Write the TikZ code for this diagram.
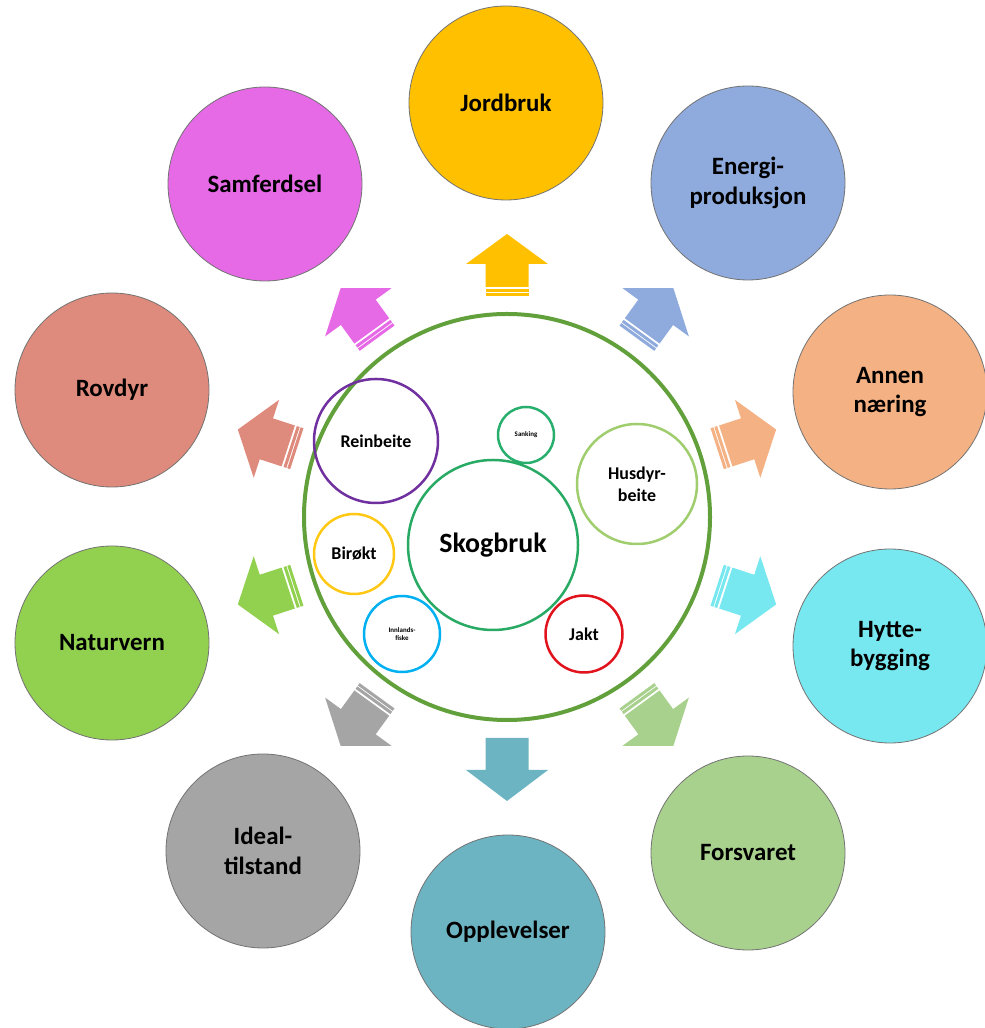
\documentclass[tikz,border=0pt]{standalone}
\usepackage{fontspec}
\setmainfont{Carlito}
\definecolor{cJord}{RGB}{255,192,0}
\definecolor{cEnergi}{RGB}{143,170,220}
\definecolor{cAnnen}{RGB}{244,177,131}
\definecolor{cHytte}{RGB}{120,232,240}
\definecolor{cForsv}{RGB}{169,209,142}
\definecolor{cOppl}{RGB}{108,180,194}
\definecolor{cIdeal}{RGB}{165,165,165}
\definecolor{cNatur}{RGB}{146,208,80}
\definecolor{cRov}{RGB}{222,138,124}
\definecolor{cSamf}{RGB}{230,105,230}
\definecolor{cBig}{RGB}{98,160,60}
\definecolor{cRein}{RGB}{112,48,160}
\definecolor{cSank}{RGB}{40,175,110}
\definecolor{cHusd}{RGB}{160,205,110}
\definecolor{cSkog}{RGB}{40,170,100}
\definecolor{cBir}{RGB}{255,200,20}
\definecolor{cFisk}{RGB}{0,176,240}
\definecolor{cJakt}{RGB}{225,20,30}
\newcommand\myblockarrow[3]{%
  \begin{scope}[shift={(big.center)}, rotate=#1]
    \ifnum#3=1
      \fill[#2] (230,-21.5) -- (253,-21.5) -- (253,-41) -- (283,0) -- (253,41) -- (253,21.5) -- (230,21.5) -- cycle;
      \fill[#2] (225,-21.5) rectangle (228,21.5);
      \fill[#2] (221,-21.5) rectangle (224,21.5);
    \else
      \fill[#2] (221,-21.5) -- (253,-21.5) -- (253,-41) -- (284,0) -- (253,41) -- (253,21.5) -- (221,21.5) -- cycle;
    \fi
  \end{scope}}
\begin{document}
\begin{tikzpicture}[x=1bp,y=1bp]
\useasboundingbox (0,0) rectangle (985,1028);
\tikzset{
  outer/.style={circle, draw=black!55, line width=0.8bp, minimum size=194bp, inner sep=0pt, align=center, font=\fontsize{25}{30}\selectfont\bfseries},
  innerc/.style={circle, line width=2.5bp, inner sep=0pt, align=center, font=\fontsize{18}{22}\selectfont\bfseries},
  tiny/.style={font=\fontsize{7}{8}\selectfont\bfseries},
}
% central circle
\node[circle, draw=cBig, line width=4bp, minimum size=406bp, inner sep=0pt] (big) at (507,511) {};
% inner circles
\node[innerc, draw=cRein, minimum size=124bp] (rein) at (376,587) {Reinbeite};
\node[innerc, draw=cSank, minimum size=56bp, tiny] (sank) at (526,593) {Sanking};
\node[innerc, draw=cHusd, minimum size=120bp] (husd) at (637,544) {Husdyr-\\beite};
\node[innerc, draw=cSkog, minimum size=170bp] (skog) at (493,483) {\fontsize{28}{30}\selectfont\bfseries Skogbruk};
\node[innerc, draw=cBir, minimum size=80bp] (bir) at (354,474) {Birøkt};
\node[innerc, draw=cFisk, minimum size=76bp, tiny] (fisk) at (402,394) {Innlands-\\fiske};
\node[innerc, draw=cJakt, minimum size=77bp] (jakt) at (584,394) {Jakt};
% arrows
\myblockarrow{90}{cJord}{1}
\myblockarrow{54}{cEnergi}{1}
\myblockarrow{18}{cAnnen}{1}
\myblockarrow{-18}{cHytte}{1}
\myblockarrow{-54}{cForsv}{1}
\myblockarrow{-90}{cOppl}{0}
\myblockarrow{-126}{cIdeal}{1}
\myblockarrow{-162}{cNatur}{1}
\myblockarrow{162}{cRov}{1}
\myblockarrow{126}{cSamf}{1}
% outer circles
\node[outer, fill=cJord] (jord) at (506,925) {Jordbruk};
\node[outer, fill=cEnergi] (energi) at (748,845) {Energi-\\produksjon};
\node[outer, fill=cAnnen] (annen) at (890,636) {Annen\\næring};
\node[outer, fill=cHytte] (hytte) at (890,382) {Hytte-\\bygging};
\node[outer, fill=cForsv] (forsv) at (748,175) {Forsvaret};
\node[outer, fill=cOppl] (oppl) at (508,96) {Opplevelser};
\node[outer, fill=cIdeal] (ideal) at (263,177) {Ideal-\\tilstand};
\node[outer, fill=cNatur] (natur) at (112,385) {Naturvern};
\node[outer, fill=cRov] (rov) at (112,638) {Rovdyr};
\node[outer, fill=cSamf] (samf) at (265,844) {Samferdsel};
\end{tikzpicture}
\end{document}
